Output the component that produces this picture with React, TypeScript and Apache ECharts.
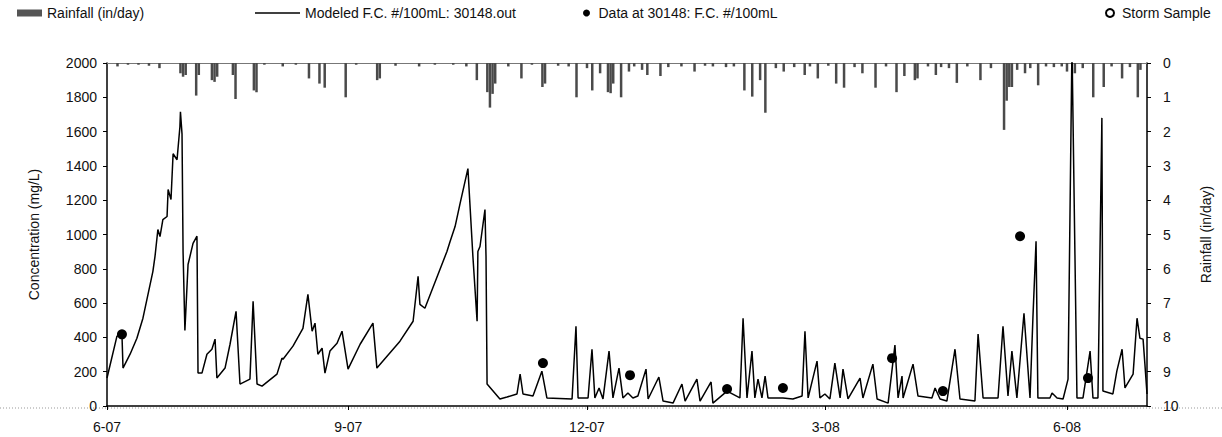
import React, { useEffect, useRef } from "react";
import * as echarts from "echarts";

// x values are days since 2007-06-01
const tickDays = [0, 92, 183, 274, 366];
const tickLabels = ["6-07", "9-07", "12-07", "3-08", "6-08"];
const xMaxDay = 396.5;

const concentration: number[][] = [
  [0, 163], [3.8, 407], [5.7, 418], [6.1, 221], [8.8, 302], [11.4, 395], [13.7, 512], [17.5, 785],
  [18.3, 872], [19.4, 1029], [20.2, 988], [21.3, 1087], [22.9, 1105], [23.3, 1262], [24.4, 1204],
  [25.2, 1471], [26.7, 1436], [27.8, 1628], [28.0, 1715], [28.6, 1587], [29.0, 900], [29.7, 440],
  [30.9, 825], [32.8, 948], [34.3, 990], [34.7, 192], [36.2, 192], [38.1, 302], [40.0, 331],
  [41.2, 390], [41.9, 163], [45.0, 221], [46.9, 360], [49.2, 552], [50.7, 128], [54.5, 157],
  [55.7, 610], [57.2, 128], [59.1, 116], [64.8, 186], [66.7, 279], [67.1, 273], [70.9, 349],
  [74.7, 453], [76.6, 651], [78.2, 436], [79.3, 483], [80.4, 302], [82.0, 337], [83.1, 192],
  [85.0, 320], [87.7, 366], [89.6, 436], [91.9, 215], [96.5, 360], [101.4, 483], [102.9, 221],
  [105.2, 262], [111.7, 378], [116.7, 494], [118.6, 756], [119.3, 593], [121.2, 570], [129.6, 901],
  [130.8, 959], [132.7, 1046], [134.6, 1180], [137.6, 1384], [139.5, 872], [141.1, 494], [141.4, 901],
  [142.2, 930], [144.1, 1145], [144.5, 872], [144.9, 128], [149.8, 41], [152.5, 52], [156.3, 70],
  [157.5, 186], [158.6, 70], [162.4, 58], [165.8, 203], [167.7, 47], [177.3, 41], [178.8, 465],
  [179.6, 47], [183.4, 47], [184.9, 331], [186.0, 47], [187.6, 105], [189.1, 41], [191.4, 320],
  [192.9, 47], [195.2, 221], [196.7, 47], [198.6, 76], [200.5, 47], [202.4, 58], [205.5, 215],
  [206.3, 41], [210.4, 169], [212.0, 29], [215.8, 17], [219.2, 128], [220.4, 29], [224.9, 157],
  [226.1, 29], [230.3, 140], [231.0, 17], [236.4, 87], [241.3, 47], [242.5, 512], [244.0, 47],
  [245.9, 320], [247.0, 47], [248.2, 157], [249.7, 47], [250.9, 174], [252.0, 47], [257.7, 47],
  [261.5, 41], [265.0, 58], [266.1, 436], [267.3, 47], [270.7, 262], [271.8, 47], [273.7, 70],
  [275.6, 41], [277.5, 250], [279.5, 47], [280.6, 215], [282.5, 41], [287.1, 163], [288.2, 47],
  [292.0, 244], [293.6, 41], [297.8, 17], [300.4, 355], [301.6, 47], [303.1, 174], [303.5, 47],
  [307.3, 244], [309.2, 58], [314.5, 47], [315.7, 105], [317.6, 41], [320.2, 29], [323.3, 331],
  [325.2, 41], [330.9, 29], [332.1, 419], [334.0, 47], [339.7, 47], [341.6, 465], [343.5, 58],
  [345.0, 320], [346.9, 47], [349.6, 541], [351.9, 47], [353.0, 512], [354.2, 960], [354.9, 47],
  [359.5, 47], [360.3, 76], [362.2, 47], [364.5, 41], [366.4, 157], [367.9, 2100], [369.8, 47],
  [372.1, 47], [374.8, 320], [375.9, 47], [377.8, 47], [379.3, 1680], [379.7, 87], [383.5, 70],
  [385.0, 203], [387.0, 331], [388.1, 105], [391.2, 186], [392.7, 512], [393.8, 395], [395.0, 390],
  [395.7, 244], [396.5, 70],
];

const dataPoints: number[][] = [
  [5.7, 418], [166.2, 250], [199.4, 180], [236.4, 99], [257.7, 105], [299.3, 279], [318.7, 87],
  [348.1, 990], [374.0, 163],
];

const stormSamples: number[][] = [];

const rainfall: number[][] = [
  [4, 0.1], [8, 0.05], [12, 0.05], [16, 0.08], [20, 0.15], [28, 0.3], [29, 0.4], [30, 0.35],
  [34, 0.95], [35, 0.35], [40, 0.5], [41, 0.55], [42, 0.4], [48, 0.35], [49, 1.05], [56, 0.8],
  [57, 0.85], [60, 0.05], [67, 0.1], [72, 0.05], [77, 0.45], [81, 0.6], [83, 0.72], [91, 1.0],
  [95, 0.05], [103, 0.5], [104, 0.45], [110, 0.08], [119, 0.1], [125, 0.05], [132, 0.05], [137, 0.1],
  [141, 0.5], [145, 0.85], [146, 1.3], [147, 0.9], [148, 0.6], [153, 0.1], [158, 0.45], [162, 0.05],
  [166, 0.7], [167, 0.6], [172, 0.08], [176, 0.1], [179, 1.0], [183, 0.15], [185, 0.8], [188, 0.3],
  [191, 0.85], [192, 0.88], [193, 0.6], [196, 1.0], [199, 0.25], [201, 0.1], [204, 0.2], [206, 0.35],
  [211, 0.38], [214, 0.12], [219, 0.1], [224, 0.25], [228, 0.08], [231, 0.1], [236, 0.12], [239, 0.1],
  [243, 0.8], [246, 0.98], [249, 0.5], [251, 1.45], [255, 0.15], [258, 0.25], [262, 0.12], [266, 0.35],
  [268, 0.1], [271, 0.45], [275, 0.08], [278, 0.6], [281, 0.72], [285, 0.12], [288, 0.3], [293, 0.72],
  [297, 0.1], [301, 0.85], [304, 0.38], [308, 0.5], [309, 0.45], [313, 0.1], [316, 0.35], [318, 0.12],
  [321, 0.15], [324, 0.58], [328, 0.1], [333, 0.5], [337, 0.15], [342, 1.95], [343, 1.1], [344, 0.7],
  [345, 0.7], [347, 0.2], [350, 0.3], [352, 0.15], [355, 0.65], [358, 0.1], [361, 0.12], [364, 0.1],
  [366, 0.25], [369, 0.3], [372, 0.15], [376, 1.0], [380, 0.7], [383, 0.1], [387, 0.45], [390, 0.12],
  [393, 1.0], [394, 0.2],
];

const NAME_RAIN = "Rainfall (in/day)";
const NAME_MODEL = "Modeled F.C. #/100mL: 30148.out";
const NAME_DATA = "Data at 30148: F.C. #/100mL";
const NAME_STORM = "Storm Sample";

export default function App() {
  const ref = useRef<HTMLDivElement>(null);
  useEffect(() => {
    const chart = echarts.init(ref.current!, null, { renderer: "svg" });
    const font = "'Liberation Sans', Arial, Helvetica, sans-serif";
    const txt = { fontFamily: font, fontSize: 14, color: "#111" };
    const gridLeft = 107;
    const gridRight = 75;
    const gridTop = 63;
    const gridBottom = 31;
    chart.setOption({
      animation: false,
      textStyle: { fontFamily: font, color: "#111" },
      legend: [
        { data: [NAME_RAIN], left: 12, top: 1, icon: "rect", itemWidth: 25, itemHeight: 7, textStyle: txt, selectedMode: false, itemStyle: { color: "#555" } },
        { data: [NAME_MODEL], left: 250, top: 1, icon: "rect", itemWidth: 45, itemHeight: 1.5, textStyle: txt, selectedMode: false },
        { data: [NAME_DATA], left: 578, top: 1, itemWidth: 14, itemHeight: 7, textStyle: txt, selectedMode: false },
        { data: [NAME_STORM], left: 1100, top: 1, itemWidth: 14, itemHeight: 8, textStyle: txt, selectedMode: false },
      ],
      grid: { left: gridLeft, right: gridRight, top: gridTop, bottom: gridBottom, containLabel: false },
      xAxis: [
        {
          type: "value",
          min: 0,
          max: xMaxDay,
          axisLine: { show: true, onZero: false, lineStyle: { color: "#000", width: 1.5 } },
          axisTick: { show: true, customValues: tickDays, length: 4, lineStyle: { color: "#000" } },
          axisLabel: {
            customValues: tickDays,
            formatter: (v: number) => {
              const i = tickDays.indexOf(Math.round(v));
              return i >= 0 ? tickLabels[i] : "";
            },
            ...txt,
            margin: 14,
          },
          splitLine: { show: false },
        },
        {
          type: "value",
          position: "top",
          min: 0,
          max: xMaxDay,
          axisLine: { show: true, onZero: false, lineStyle: { color: "#777", width: 1 } },
          axisTick: { show: false },
          axisLabel: { show: false },
          splitLine: { show: false },
        },
      ],
      yAxis: [
        {
          type: "value",
          min: 0,
          max: 2000,
          interval: 200,
          position: "left",
          name: "Concentration (mg/L)",
          nameLocation: "middle",
          nameGap: 66,
          nameTextStyle: txt,
          axisLine: { show: true, onZero: false, lineStyle: { color: "#000", width: 1.5 } },
          axisTick: { show: true, length: 4, lineStyle: { color: "#000" } },
          axisLabel: { ...txt, margin: 10, formatter: (v: number) => String(v) },
          splitLine: { show: false },
        },
        {
          type: "value",
          min: 0,
          max: 10,
          interval: 1,
          inverse: true,
          position: "right",
          name: "Rainfall (in/day)",
          nameLocation: "middle",
          nameGap: 52,
          nameTextStyle: txt,
          axisLine: { show: true, onZero: false, lineStyle: { color: "#000", width: 1.5 } },
          axisTick: { show: true, length: 4, lineStyle: { color: "#000" } },
          axisLabel: { ...txt, margin: 16, formatter: (v: number) => String(v) },
          splitLine: { show: false },
        },
      ],
      graphic: [
        {
          type: "line",
          shape: { x1: 0, y1: 437 - gridBottom + 2, x2: 1222, y2: 437 - gridBottom + 2 },
          style: { stroke: "#999", lineWidth: 1, lineDash: [1, 2] },
          silent: true,
          z: 0,
        },
      ],
      series: [
        {
          name: NAME_RAIN,
          type: "bar",
          xAxisIndex: 0,
          yAxisIndex: 1,
          data: rainfall,
          barWidth: 2.5,
          itemStyle: { color: "#4a4a4a" },
        },
        {
          name: NAME_MODEL,
          type: "line",
          xAxisIndex: 0,
          yAxisIndex: 0,
          data: concentration,
          symbol: "none",
          showSymbol: false,
          lineStyle: { color: "#000", width: 1.5 },
          itemStyle: { color: "#000" },
          clip: true,
        },
        {
          name: NAME_DATA,
          type: "scatter",
          xAxisIndex: 0,
          yAxisIndex: 0,
          data: dataPoints,
          symbol: "circle",
          symbolSize: 10,
          itemStyle: { color: "#000", opacity: 1 },
          z: 5,
        },
        {
          name: NAME_STORM,
          type: "scatter",
          xAxisIndex: 0,
          yAxisIndex: 0,
          data: stormSamples,
          symbol: "emptyCircle",
          symbolSize: 8,
          itemStyle: { color: "#000", borderColor: "#000", borderWidth: 1.2, opacity: 1 },
        },
      ],
    });
    return () => chart.dispose();
  }, []);
  return (
    <div
      ref={ref}
      style={{ position: "absolute", left: 0, top: 0, width: 1222, height: 437, background: "#fff" }}
    />
  );
}
